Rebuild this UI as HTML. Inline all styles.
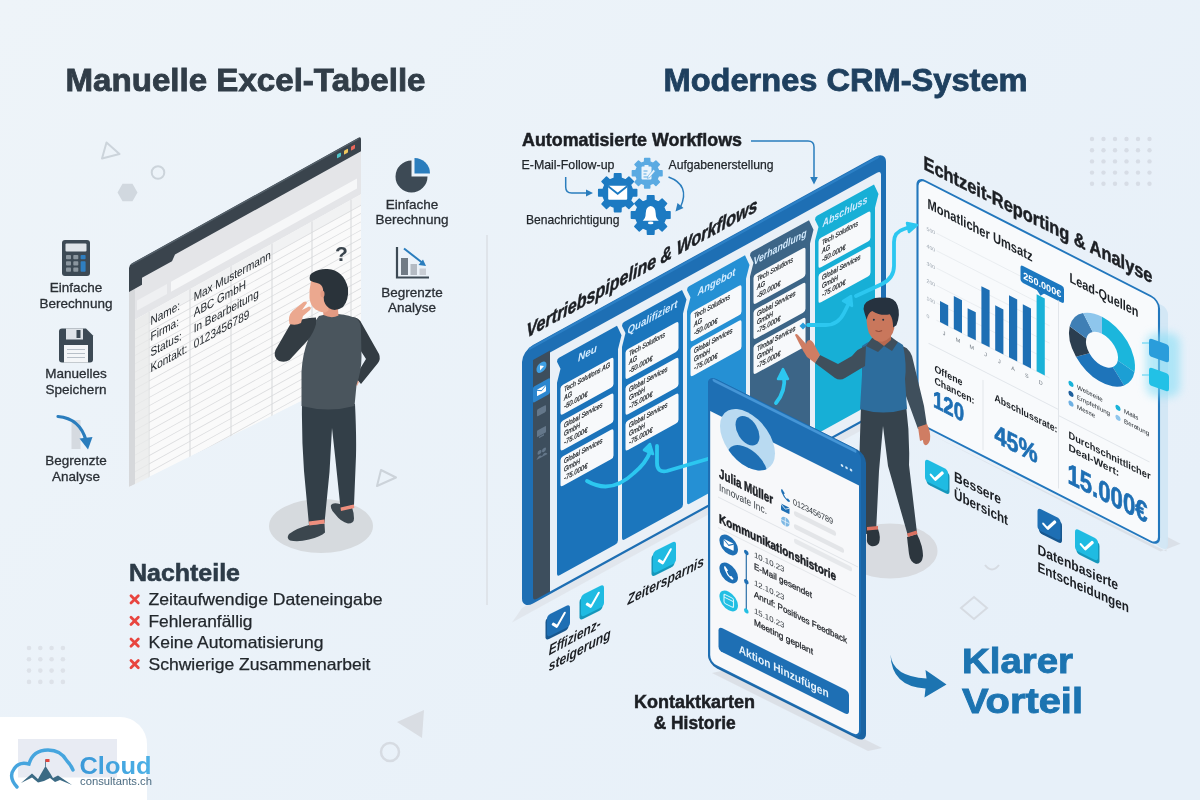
<!DOCTYPE html>
<html lang="de"><head><meta charset="utf-8"><title>Manuelle Excel-Tabelle vs. Modernes CRM-System</title>
<style>
html,body{margin:0;padding:0;background:#ebf2f9;}
body{width:1200px;height:800px;overflow:hidden;font-family:"Liberation Sans",sans-serif;}
svg{display:block;opacity:.999}
text{font-family:"Liberation Sans",sans-serif;}
.b{font-weight:700}
.i{font-style:italic}
.m{text-anchor:middle}
#lefticons text{stroke:#2a2f35;stroke-width:.3px}
.hv{stroke:#1c1f24;stroke-width:.5px}
</style></head><body>
<svg width="1200" height="800" viewBox="0 0 1200 800">
<defs>
<linearGradient id="bg" x1="0" y1="0" x2="1" y2="0.6"><stop offset="0" stop-color="#eef4f9"/><stop offset="1" stop-color="#e7f0f9"/></linearGradient>
<linearGradient id="cl" x1="0" y1="0" x2="1" y2="0"><stop offset="0" stop-color="#3a98d8"/><stop offset="1" stop-color="#4db1e6"/></linearGradient>
<filter id="glow" x="-50%" y="-50%" width="200%" height="200%"><feGaussianBlur stdDeviation="4"/></filter>
<filter id="soft" x="-20%" y="-20%" width="140%" height="140%"><feGaussianBlur stdDeviation="2"/></filter>
</defs>
<rect width="1200" height="800" fill="url(#bg)"/>

<g id="deco">
<circle cx="29.0" cy="648.0" r="2.3" fill="#dde2e9"/><circle cx="29.0" cy="659.3" r="2.3" fill="#dde2e9"/><circle cx="29.0" cy="670.6" r="2.3" fill="#dde2e9"/><circle cx="29.0" cy="681.9" r="2.3" fill="#dde2e9"/><circle cx="40.3" cy="648.0" r="2.3" fill="#dde2e9"/><circle cx="40.3" cy="659.3" r="2.3" fill="#dde2e9"/><circle cx="40.3" cy="670.6" r="2.3" fill="#dde2e9"/><circle cx="40.3" cy="681.9" r="2.3" fill="#dde2e9"/><circle cx="51.6" cy="648.0" r="2.3" fill="#dde2e9"/><circle cx="51.6" cy="659.3" r="2.3" fill="#dde2e9"/><circle cx="51.6" cy="670.6" r="2.3" fill="#dde2e9"/><circle cx="51.6" cy="681.9" r="2.3" fill="#dde2e9"/><circle cx="62.9" cy="648.0" r="2.3" fill="#dde2e9"/><circle cx="62.9" cy="659.3" r="2.3" fill="#dde2e9"/><circle cx="62.9" cy="670.6" r="2.3" fill="#dde2e9"/><circle cx="62.9" cy="681.9" r="2.3" fill="#dde2e9"/>
<circle cx="1092.0" cy="139.0" r="2.2" fill="#d7dde6"/><circle cx="1092.0" cy="150.2" r="2.2" fill="#d7dde6"/><circle cx="1092.0" cy="161.4" r="2.2" fill="#d7dde6"/><circle cx="1092.0" cy="172.6" r="2.2" fill="#d7dde6"/><circle cx="1092.0" cy="183.8" r="2.2" fill="#d7dde6"/><circle cx="1103.5" cy="139.0" r="2.2" fill="#d7dde6"/><circle cx="1103.5" cy="150.2" r="2.2" fill="#d7dde6"/><circle cx="1103.5" cy="161.4" r="2.2" fill="#d7dde6"/><circle cx="1103.5" cy="172.6" r="2.2" fill="#d7dde6"/><circle cx="1103.5" cy="183.8" r="2.2" fill="#d7dde6"/><circle cx="1115.0" cy="139.0" r="2.2" fill="#d7dde6"/><circle cx="1115.0" cy="150.2" r="2.2" fill="#d7dde6"/><circle cx="1115.0" cy="161.4" r="2.2" fill="#d7dde6"/><circle cx="1115.0" cy="172.6" r="2.2" fill="#d7dde6"/><circle cx="1115.0" cy="183.8" r="2.2" fill="#d7dde6"/><circle cx="1126.5" cy="139.0" r="2.2" fill="#d7dde6"/><circle cx="1126.5" cy="150.2" r="2.2" fill="#d7dde6"/><circle cx="1126.5" cy="161.4" r="2.2" fill="#d7dde6"/><circle cx="1126.5" cy="172.6" r="2.2" fill="#d7dde6"/><circle cx="1126.5" cy="183.8" r="2.2" fill="#d7dde6"/><circle cx="1138.0" cy="139.0" r="2.2" fill="#d7dde6"/><circle cx="1138.0" cy="150.2" r="2.2" fill="#d7dde6"/><circle cx="1138.0" cy="161.4" r="2.2" fill="#d7dde6"/><circle cx="1138.0" cy="172.6" r="2.2" fill="#d7dde6"/><circle cx="1138.0" cy="183.8" r="2.2" fill="#d7dde6"/><circle cx="1149.5" cy="139.0" r="2.2" fill="#d7dde6"/><circle cx="1149.5" cy="150.2" r="2.2" fill="#d7dde6"/><circle cx="1149.5" cy="161.4" r="2.2" fill="#d7dde6"/><circle cx="1149.5" cy="172.6" r="2.2" fill="#d7dde6"/><circle cx="1149.5" cy="183.8" r="2.2" fill="#d7dde6"/>
<path d="M106.500,142.500 L119.500,154 L102,158.500 Z" fill="none" stroke="#ccd4db" stroke-width="2" stroke-linejoin="round"/>
<circle cx="158" cy="172.500" r="6.300" fill="none" stroke="#ccd4db" stroke-width="2"/>
<path d="M117.500,192.500 l5,-8.700 h10 l5,8.700 l-5,8.700 h-10 z" fill="#d1d8df"/>
<path d="M381,470 L396,477.500 L377,486 Z" fill="none" stroke="#ccd3da" stroke-width="2" stroke-linejoin="round"/>
<path d="M397,722 L424,710 L422,738 Z" fill="#d9dde3"/>
<circle cx="390" cy="752" r="9" fill="none" stroke="#d6dbe2" stroke-width="2.5"/>
<path d="M974,597 l13,11 l-13,11 l-13,-11 z" fill="none" stroke="#d6dbe2" stroke-width="2"/>
<path d="M985,565 q7,9 14,0" fill="none" stroke="#d6dbe2" stroke-width="2"/>
<rect x="486" y="235" width="2" height="370" fill="#dfe4ea"/>
</g>
<text x="65.500" y="90.700" class="b" font-size="30.500" fill="#313d48" stroke="#313d48" stroke-width="0.800" textLength="360" lengthAdjust="spacingAndGlyphs">Manuelle Excel-Tabelle</text>
<text x="663.500" y="90.700" class="b" font-size="30.500" fill="#1f405f" stroke="#1f405f" stroke-width="0.800" textLength="364" lengthAdjust="spacingAndGlyphs">Modernes CRM-System</text>
<g id="lefticons" fill="#2a2f35" font-size="13.5">
<g><rect x="62" y="240" width="28" height="36" rx="3" fill="#3d4a55"/><rect x="65.5" y="243.5" width="21" height="8" rx="1" fill="#dfe4e9"/>
<rect x="66.0" y="255.0" width="5" height="4.2" rx="0.8" fill="#8b969f"/>
<rect x="73.3" y="255.0" width="5" height="4.2" rx="0.8" fill="#8b969f"/>
<rect x="80.6" y="255.0" width="5" height="4.2" rx="0.8" fill="#2f7fc1"/>
<rect x="66.0" y="261.3" width="5" height="4.2" rx="0.8" fill="#8b969f"/>
<rect x="73.3" y="261.3" width="5" height="4.2" rx="0.8" fill="#8b969f"/>
<rect x="66.0" y="267.6" width="5" height="4.2" rx="0.8" fill="#8b969f"/>
<rect x="73.3" y="267.6" width="5" height="4.2" rx="0.8" fill="#8b969f"/>
<rect x="80.6" y="261.3" width="5" height="10.5" rx="0.8" fill="#2f7fc1"/></g>
<text x="76" y="307.5" class="m"><tspan x="76" y="292">Einfache</tspan><tspan x="76" y="307.5">Berechnung</tspan></text>
<g><path d="M59,331.5 a3,3 0 0 1 3,-3 h24 l7,7 v24 a3,3 0 0 1 -3,3 h-28 a3,3 0 0 1 -3,-3 z" fill="#3d4a55"/><rect x="66" y="328.5" width="17" height="11" fill="#dfe4e9"/><rect x="76.5" y="330" width="4" height="8" fill="#3d4a55"/><rect x="64" y="345" width="24" height="17.5" fill="#f4f6f8"/><path d="M67,349.5h18M67,353.5h18M67,357.5h18" stroke="#b8c0c8" stroke-width="1.2"/></g>
<text class="m"><tspan x="76" y="378">Manuelles</tspan><tspan x="76" y="394">Speichern</tspan></text>
<g><rect x="71.5" y="420" width="9" height="29" fill="#d5dae0"/><path d="M58,416.5 q22,2 28,24" fill="none" stroke="#2a7dbd" stroke-width="3.2" stroke-linecap="round"/><path d="M79.5,438.5 l13,-1.5 l-4.5,12.5 z" fill="#2a7dbd"/></g>
<text class="m"><tspan x="76" y="465">Begrenzte</tspan><tspan x="76" y="481">Analyse</tspan></text>
<g><path d="M411.5,176.5 v-16 a16,16 0 1 0 16,16 z" fill="#3d4a55"/><path d="M414.5,173.5 v-15.5 a15.5,15.5 0 0 1 15.5,15.5 z" fill="#2a7dbd"/></g>
<text class="m"><tspan x="412" y="208.5">Einfache</tspan><tspan x="412" y="224">Berechnung</tspan></text>
<g><path d="M397,247 v30.5 h32" fill="none" stroke="#3d4a55" stroke-width="2.2"/><rect x="401" y="258" width="7" height="17" fill="#707b85"/><rect x="410.5" y="264" width="6.5" height="11" fill="#b4bbc3"/><rect x="419.5" y="268.5" width="6.5" height="6.5" fill="#c9ced5"/><path d="M404,248.5 L422,262.5" stroke="#2a7dbd" stroke-width="2"/><path d="M426,266 l-7.5,-1 l4.5,-5.5 z" fill="#2a7dbd"/></g>
<text class="m"><tspan x="412" y="296.5">Begrenzte</tspan><tspan x="412" y="311.5">Analyse</tspan></text>
</g>
<g id="sheet" transform="matrix(1,-0.555,0,1,129,267)"><clipPath id="shc"><path d="M0,-3 H232 V233 L0,220 Z"/></clipPath><g clip-path="url(#shc)">
<path d="M0,14 L232,14 L232,233 L0,220 Z" fill="#fafafa"/>
<path d="M0,12 H232 V56 H0 Z" fill="#e4e5e8"/>
<rect x="42" y="38" width="186" height="10" fill="#f6f7f8"/><rect x="8" y="38" width="30" height="10" fill="#eff0f2"/>
<rect x="6" y="56" width="226" height="11" fill="#f1f2f3"/>
<path d="M6,67.0H232M6,75.3H232M6,83.6H232M6,91.9H232M6,100.2H232M6,108.5H232M6,116.8H232M6,125.1H232M6,133.4H232M6,141.7H232M6,150.0H232M6,158.3H232M6,166.6H232M6,174.9H232M6,183.2H232M6,191.5H232M6,199.8H232M6,208.1H232M6,216.4H232M6,224.7H232" stroke="#dcdddf" stroke-width="0.9" fill="none"/>
<path d="M20,56V232M61,56V232M102,56V232M143,56V232M183,56V232M222,56V232" stroke="#d6d8da" stroke-width="1" fill="none"/>
<path d="M6,56 H20 V232 H6 Z" fill="#e8e9ea" opacity="0.75"/><path d="M0,12 H6 L6,221 L0,220 Z" fill="#d6d8db"/>
</g>
<path d="M0,1 a3,3 0 0 1 3,-3 H229 a3,3 0 0 1 3,3 V13 H46 l-3,5 H13 V25 H0 Z" fill="#3a444d"/><path d="M3,-1 H229" stroke="#56626c" stroke-width="1.500" stroke-linecap="round"/>
<rect x="208" y="3" width="4" height="4" rx="0.8" fill="#4fc3c7"/><rect x="215" y="3" width="4" height="4" rx="0.8" fill="#f0c75e"/><rect x="222" y="3" width="4" height="4" rx="0.8" fill="#e8685c"/>
<g font-size="12.5" fill="#24292e" transform="scale(0.8,1)">
<text x="27.0" y="70.5">Name:</text><text x="80.9" y="70.5">Max Mustermann</text>
<text x="27.0" y="86.2">Firma:</text><text x="80.9" y="86.2">ABC GmbH</text>
<text x="27.0" y="101.9">Status:</text><text x="80.9" y="101.9">In Bearbeitung</text>
<text x="27.0" y="117.6">Kontakt:</text><text x="80.9" y="117.6">0123456789</text>
</g>
</g>
<text x="335" y="261" class="b" font-size="21" fill="#3a444d">?</text>
<g id="man1">
<ellipse cx="321" cy="526" rx="52" ry="27" fill="#d6dade"/>
<path d="M309,525 q-12,3 -20,9 q-3,4 1,6.500 q8,2 19,-1 q12,-3 16,-7 l-0.500,-9 z" fill="#3b464e"/>
<path d="M340,504 q-7,-2 -9,1 q-1,4 4,9 q6,8 13,9.500 q6,0 6,-5 q0,-6 -2,-11 z" fill="#3b464e"/>
<path d="M302,404 H355 q1.500,30 1,52 l-2,49 l-13.500,3 l-5,-48 l-3.500,-32 l-2.500,44 l-5,51 l-15.500,2 l-5,-54 q-2.500,-34 -2,-67 Z" fill="#333f48"/>
<path d="M308.800,521.500 l15.600,-2 l0.300,4 l-15.400,2 z M340.500,507.500 l13.300,-3 l0.500,3.600 l-13.300,3 z" fill="#ef8f7e"/>
<path d="M352,317 q7,0 10,7 l17,30 q2,5 -1,9 l-17,21 l-6,-7 l11,-18 l-9,-14 z" fill="#333c43"/>
<path d="M355,377 l4,5 l-2,4 l-3,-3 z" fill="#eba88f"/>
<path d="M319,316 q10,-3 19,-2 q12,1 19,5 q4,3 4,12 l0.500,26 q0,14 -5,28 l-2,21 q-26,7 -53,0 l0,-34 q1,-18 6.500,-32 q4,-16 11,-24 z" fill="#4a555d"/>
<path d="M316,317.500 q-14,0 -25.500,6.500 l-15,26 q-3,7 3.500,11 q6,2 10.500,-1 l18.500,-20 q6,-8 8,-16 z" fill="#333c43"/>
<path d="M289.500,324 q-2,-8 3,-13 l11,-9 q3,-1.500 3.500,1 l-5,7 l7,-3.500 q3,0.500 1,3.500 l-7,6 l-2,7 q-5,3 -11.500,1 z" fill="#eba88f"/>
<path d="M322,304 l1.500,11 q8,4 15,0.500 l-1,-12 z" fill="#e39a82"/>
<path d="M311,281 q-2,9 -1.500,17 q1,8 6,11.500 q5,3 10,3 l3,-2 l-1,-24 l-7,-6 z" fill="#eba88f"/>
<path d="M310,280.500 q-1.500,-6 3,-8 q6,-4 14.500,-3.500 q16,1 20.500,19 q1,12 -5,19 q-6,4 -11,2.500 q-6,-2 -8,-8.500 l-1,-12 q-1,-5 -6,-6 q-4,-1 -7,-2.500 z" fill="#2a333a"/>
<ellipse cx="322.500" cy="294" rx="2" ry="3.200" fill="#e39a82"/>
</g>
<text x="129" y="581" class="b" font-size="24.5" fill="#2d3b48" stroke="#2d3b48" stroke-width="0.600" textLength="111" lengthAdjust="spacingAndGlyphs">Nachteile</text>
<path d="M131,595.7 l7.300,7.300 m0,-7.300 l-7.300,7.300" stroke="#e8453f" stroke-width="2.800" stroke-linecap="round"/>
<text x="148.5" y="605.2" font-size="16.5" fill="#22272c" stroke="#22272c" stroke-width="0.250" textLength="234" lengthAdjust="spacingAndGlyphs">Zeitaufwendige Dateneingabe</text>
<path d="M131,617.3 l7.300,7.300 m0,-7.300 l-7.300,7.300" stroke="#e8453f" stroke-width="2.800" stroke-linecap="round"/>
<text x="148.5" y="626.8" font-size="16.5" fill="#22272c" stroke="#22272c" stroke-width="0.250" textLength="104" lengthAdjust="spacingAndGlyphs">Fehleranfällig</text>
<path d="M131,638.9 l7.300,7.300 m0,-7.300 l-7.300,7.300" stroke="#e8453f" stroke-width="2.800" stroke-linecap="round"/>
<text x="148.5" y="648.4" font-size="16.5" fill="#22272c" stroke="#22272c" stroke-width="0.250" textLength="175" lengthAdjust="spacingAndGlyphs">Keine Automatisierung</text>
<path d="M131,660.5 l7.300,7.300 m0,-7.300 l-7.300,7.300" stroke="#e8453f" stroke-width="2.800" stroke-linecap="round"/>
<text x="148.5" y="670.0" font-size="16.5" fill="#22272c" stroke="#22272c" stroke-width="0.250" textLength="222" lengthAdjust="spacingAndGlyphs">Schwierige Zusammenarbeit</text>
<g id="logo">
<path d="M0,717 H120 a27,27 0 0 1 27,27 V800 H0 Z" fill="#ffffff"/>
<rect x="18" y="739" width="99" height="38.5" fill="#e8ebf3"/>
<path d="M17,787 q-9,-10 -3,-18 q5,-8 15,-5 q4,-14 19,-14 q13,0 19,11 q4,4 6,9" fill="none" stroke="#46a5de" stroke-width="3.4" stroke-linecap="round"/>
<path d="M21,783 L32,773.5 L38,779 L45.5,766 L50,773 L53,778 L58,775.5 L72,785 L60,780 L55,782 L50,778 L44,781 L38,782.5 L32,777.5 Z" fill="#3b6a84"/>
<path d="M45.5,766.5 v-7" stroke="#3b6a84" stroke-width="0.8"/><rect x="45.5" y="759" width="4" height="3" fill="#e2453c"/>
<text x="79.5" y="774" class="b" font-size="23.5" fill="url(#cl)" textLength="72" lengthAdjust="spacingAndGlyphs">Cloud</text>
<text x="80" y="784.8" font-size="10.2" fill="#4b6b81" textLength="72" lengthAdjust="spacingAndGlyphs">consultants.ch</text>
</g>
<g id="workflows">
<text x="522" y="146" class="b hv" font-size="17.5" fill="#1c1f24" textLength="220" lengthAdjust="spacingAndGlyphs">Automatisierte Workflows</text>
<g font-size="13.5" fill="#22272c" stroke="#22272c" stroke-width="0.250">
<text x="521.5" y="169" textLength="93" lengthAdjust="spacingAndGlyphs">E-Mail-Follow-up</text>
<text x="668.5" y="169" textLength="105" lengthAdjust="spacingAndGlyphs">Aufgabenerstellung</text>
<text x="526" y="223.5" textLength="93.5" lengthAdjust="spacingAndGlyphs">Benachrichtigung</text>
</g>
<path d="M636.7,189.5L636.7,195.9L632.3,196.1L630.4,200.6L633.4,203.9L628.9,208.4L625.6,205.4L621.1,207.3L620.9,211.7L614.5,211.7L614.3,207.3L609.8,205.4L606.5,208.4L602.0,203.9L605.0,200.6L603.1,196.1L598.7,195.9L598.7,189.5L603.1,189.3L605.0,184.8L602.0,181.5L606.5,177.0L609.8,180.0L614.3,178.1L614.5,173.7L620.9,173.7L621.1,178.1L625.6,180.0L628.9,177.0L633.4,181.5L630.4,184.8L632.3,189.3Z" fill="#1c7ac2" stroke="#1c7ac2" stroke-width="1.5" stroke-linejoin="round"/>
<path d="M662.0,170.7L662.0,175.7L658.5,175.8L657.0,179.3L659.4,181.9L655.9,185.4L653.3,183.0L649.8,184.5L649.7,188.0L644.7,188.0L644.6,184.5L641.1,183.0L638.5,185.4L635.0,181.9L637.4,179.3L635.9,175.8L632.4,175.7L632.4,170.7L635.9,170.6L637.4,167.1L635.0,164.5L638.5,161.0L641.1,163.4L644.6,161.9L644.7,158.4L649.7,158.4L649.8,161.9L653.3,163.4L655.9,161.0L659.4,164.5L657.0,167.1L658.5,170.6Z" fill="#5aaae2" stroke="#5aaae2" stroke-width="1.5" stroke-linejoin="round"/>
<path d="M670.0,211.8L670.0,218.2L665.5,218.4L663.6,223.0L666.6,226.4L662.1,230.9L658.7,227.9L654.1,229.8L653.9,234.3L647.5,234.3L647.3,229.8L642.7,227.9L639.3,230.9L634.8,226.4L637.8,223.0L635.9,218.4L631.4,218.2L631.4,211.8L635.9,211.6L637.8,207.0L634.8,203.6L639.3,199.1L642.7,202.1L647.3,200.2L647.5,195.7L653.9,195.7L654.1,200.2L658.7,202.1L662.1,199.1L666.6,203.6L663.6,207.0L665.5,211.6Z" fill="#1c7ac2" stroke="#1c7ac2" stroke-width="1.5" stroke-linejoin="round"/>
<g><rect x="608.2" y="185.800" width="19" height="14" rx="1" fill="#fff"/><path d="M608.2,186.300 l9.500,7.500 l9.500,-7.500" fill="none" stroke="#1c7ac2" stroke-width="1.800"/></g>
<g><rect x="641.5" y="166.5" width="10" height="13" rx="1" fill="#eaf4fc"/><rect x="644.5" y="165" width="4" height="2.6" fill="#eaf4fc"/><path d="M643.5,171h4M643.5,174h3M643.5,177h5" stroke="#5ba9e1" stroke-width="1"/><path d="M648,176 l5.5,-6.5 l1.8,1.6 l-5.5,6.5 l-2.4,0.8 z" fill="#eaf4fc" stroke="#5ba9e1" stroke-width="0.6"/></g>
<g><path d="M642.700,220.800 q3,-2.500 3,-7.500 q0,-6.500 5,-7.300 q5,0.800 5,7.300 q0,5 3,7.500 z" fill="#fff"/><ellipse cx="650.700" cy="222.900" rx="2.800" ry="1.300" fill="#fff"/></g>
<g fill="none" stroke="#2a7dbd" stroke-width="1.5">
<path d="M565.7,177 V187 q0,6 6,6 H588"/><path d="M751,141 H808 q6,0 6,6 V179"/><path d="M668.5,177 q22,8 12,30"/>
</g>
<path d="M593,193 l-7,-3.500 v7 z M814,184.500 l-3.800,-7.500 h7.600 z M675.500,211.500 l2,-8.500 l6,5 z" fill="#2a7dbd"/>
</g>
<g id="report" transform="matrix(1,0.51,0,1,917.5,180.6)">
<path d="M10,247 H243 l20,-18 h-14 V244 Z" fill="#d6dbe1" opacity="0.75"/>
<rect x="236" y="0" width="14.500" height="243" rx="6" fill="#cfe5f5" opacity="0.85"/>
<rect x="0" y="-3.500" width="241.5" height="245.500" rx="8" fill="#f8fafc" stroke="#2277bd" stroke-width="2.100"/>
<text x="10" y="22.5" font-size="14.5" fill="#1d2126" class="b" textLength="105" lengthAdjust="spacingAndGlyphs" style="font-weight:600">Monatlicher Umsatz</text>
<text x="152" y="24" font-size="14" fill="#1d2126" class="b" textLength="69" lengthAdjust="spacingAndGlyphs">Lead-Quellen</text>
<text x="9" y="45.0" font-size="5.200" fill="#9ea7b1">500</text>
<path d="M19,43.0H132" stroke="#e6e9ed" stroke-width="0.7"/>
<text x="9" y="62.4" font-size="5.200" fill="#9ea7b1">400</text>
<path d="M19,60.4H132" stroke="#e6e9ed" stroke-width="0.7"/>
<text x="9" y="79.8" font-size="5.200" fill="#9ea7b1">300</text>
<path d="M19,77.8H132" stroke="#e6e9ed" stroke-width="0.7"/>
<text x="9" y="97.2" font-size="5.200" fill="#9ea7b1">200</text>
<path d="M19,95.2H132" stroke="#e6e9ed" stroke-width="0.7"/>
<text x="9" y="114.6" font-size="5.200" fill="#9ea7b1">100</text>
<path d="M19,112.6H132" stroke="#e6e9ed" stroke-width="0.7"/>
<text x="9" y="132.0" font-size="5.200" fill="#9ea7b1">0</text>
<path d="M19,130.0H132" stroke="#e6e9ed" stroke-width="0.7"/>
<rect x="22.5" y="109" width="8.2" height="21" fill="#1e6fb4"/>
<text x="26.6" y="141" font-size="5.4" fill="#6f7881" class="m">J</text>
<rect x="36.3" y="97" width="8.2" height="33" fill="#1e6fb4"/>
<text x="40.4" y="141" font-size="5.4" fill="#6f7881" class="m">M</text>
<rect x="50.1" y="102" width="8.2" height="28" fill="#1e6fb4"/>
<text x="54.2" y="141" font-size="5.4" fill="#6f7881" class="m">M</text>
<rect x="63.9" y="73" width="8.2" height="57" fill="#1e6fb4"/>
<text x="68.0" y="141" font-size="5.4" fill="#6f7881" class="m">J</text>
<rect x="77.7" y="85" width="8.2" height="45" fill="#1e6fb4"/>
<text x="81.8" y="141" font-size="5.4" fill="#6f7881" class="m">J</text>
<rect x="91.5" y="68" width="8.2" height="62" fill="#1e6fb4"/>
<text x="95.6" y="141" font-size="5.4" fill="#6f7881" class="m">A</text>
<rect x="105.3" y="70" width="8.2" height="60" fill="#1e6fb4"/>
<text x="109.4" y="141" font-size="5.4" fill="#6f7881" class="m">S</text>
<rect x="119.1" y="53" width="8.2" height="77" fill="#1ab2d8"/>
<text x="123.2" y="141" font-size="5.4" fill="#6f7881" class="m">D</text>
<g><rect x="103" y="31.500" width="43.5" height="17" rx="2.5" fill="#1c78c0"/><path d="M119,48 h8 l-4,4.500 z" fill="#1c78c0"/><text x="124.8" y="44" font-size="9.6" class="b m" fill="#fff" textLength="38" lengthAdjust="spacingAndGlyphs">250.000€</text></g>
<path d="M141,48V236 M11,157H141 M65.500,166V236 M141,163 H232" stroke="#e1e5ea" stroke-width="1" fill="none"/>
<path d="M184.5,42.0A33,33 0 0 1 217.0,80.7L200.3,77.8A16,16 0 0 0 184.5,59.0Z" fill="#1bb6dc"/>
<path d="M217.0,80.7A33,33 0 0 1 206.6,99.5L195.2,86.9A16,16 0 0 0 200.3,77.8Z" fill="#1c9fd4"/>
<path d="M206.6,99.5A33,33 0 0 1 158.5,95.3L171.9,84.9A16,16 0 0 0 195.2,86.9Z" fill="#1e74ba"/>
<path d="M158.5,95.3A33,33 0 0 1 152.2,68.1L168.8,71.7A16,16 0 0 0 171.9,84.9Z" fill="#2b3e50"/>
<path d="M152.2,68.1A33,33 0 0 1 165.6,48.0L175.3,61.9A16,16 0 0 0 168.8,71.7Z" fill="#3f7fb5"/>
<path d="M165.6,48.0A33,33 0 0 1 184.5,42.0L184.5,59.0A16,16 0 0 0 175.3,61.9Z" fill="#8ec6ec"/>
<circle cx="153.5" cy="125" r="2.6" fill="#19b3d9"/><text x="159.5" y="127" font-size="6.200" fill="#20262c">Webseite</text>
<circle cx="153.5" cy="135" r="2.6" fill="#1e5f9c"/><text x="159.5" y="137" font-size="6.200" fill="#20262c">Empfehlung</text>
<circle cx="153.5" cy="144.7" r="2.6" fill="#6fb1e3"/><text x="159.5" y="146.7" font-size="6.200" fill="#20262c">Messe</text>
<circle cx="200.5" cy="125" r="2.6" fill="#19b3d9"/><text x="206.5" y="127" font-size="6.200" fill="#20262c">Mails</text>
<circle cx="200.5" cy="135" r="2.6" fill="#8ec6ec"/><text x="206.5" y="137" font-size="6.200" fill="#20262c">Beratung</text>
<g fill="#1d2126" class="b" font-size="10.2"><text x="17" y="182.5" textLength="28" lengthAdjust="spacingAndGlyphs">Offene</text><text x="17" y="194.5" textLength="40" lengthAdjust="spacingAndGlyphs">Chancen:</text><text x="77" y="181" textLength="63" lengthAdjust="spacingAndGlyphs">Abschlussrate:</text><text x="151" y="180.5" textLength="82" lengthAdjust="spacingAndGlyphs">Durchschnittlicher</text><text x="151" y="193">Deal-Wert:</text></g>
<g fill="#1e6fb4" stroke="#1e6fb4" stroke-width="0.700" class="b"><text x="15.5" y="218" font-size="24" textLength="31" lengthAdjust="spacingAndGlyphs">120</text><text x="77" y="222" font-size="26" textLength="43" lengthAdjust="spacingAndGlyphs">45%</text><text x="150" y="225.5" font-size="28.5" textLength="80" lengthAdjust="spacingAndGlyphs">15.000€</text></g>
</g>
<text transform="matrix(1,0.5,0,1,923.500,169)" x="0" y="0" class="b hv" font-size="19.500" fill="#1c1f24" textLength="229" lengthAdjust="spacingAndGlyphs">Echtzeit-Reporting &amp; Analyse</text>
<g><rect x="1146" y="333" width="34" height="64" rx="10" fill="#7fdcf5" opacity="0.55" filter="url(#glow)"/>
<path d="M1142,343 h10 M1142,375 h10" stroke="#7fdcf5" stroke-width="1.5"/>
<path d="M1152,339 l14,5 q3,1 3,4 v12 q0,3 -3,2 l-14,-5 q-3,-1 -3,-4 v-12 q0,-3 3,-2 z" fill="#2a9ddb"/>
<path d="M1152,368 l14,5 q3,1 3,4 v12 q0,3 -3,2 l-14,-5 q-3,-1 -3,-4 v-12 q0,-3 3,-2 z" fill="#22c1e6"/></g>
<g id="board" transform="matrix(1,-0.55,0,1,522,358)">
<path d="M-10,259 L370,259 L388,250 L0,250 Z" fill="#dfe4ea" opacity="0.8"/>
<rect x="0" y="-7" width="364" height="258.5" rx="11" fill="#1e6fb4"/><path d="M8,-5 H356" stroke="#2c80c6" stroke-width="2.500" stroke-linecap="round"/>
<path d="M11,8 H28 V249 H15 q-4,0 -4,-4 Z" fill="#3d4e5d"/>
<path d="M28,10 H355 q4,0 4,4 V249 H28 Z" fill="#e9f0f7"/>
<path d="M37,20 H95 L99.5,32 L96,44 V235 q0,3 -3,3 H38 q-3,0 -3,-3 V44 L38.5,32 L35,23 q0,-3 2,-3 Z" fill="#1b73ba"/>
<text x="65.5" y="34.500" font-size="10.8" class="b i m" fill="#d4ecff" textLength="19" lengthAdjust="spacingAndGlyphs">Neu</text>
<rect x="38.5" y="49.2" width="53" height="29.500" rx="2.5" fill="#f7f9fb"/>
<text font-size="7.200" fill="#14181c" stroke="#14181c" stroke-width="0.200" class="i"><tspan x="42" y="57.2" textLength="46" lengthAdjust="spacingAndGlyphs">Tech Solutions AG</tspan><tspan x="42" y="65.5" textLength="8" lengthAdjust="spacingAndGlyphs">AG</tspan><tspan x="42" y="74.2" textLength="23.500" lengthAdjust="spacingAndGlyphs">-50.000€</tspan></text>
<rect x="38.5" y="85.0" width="53" height="29.500" rx="2.5" fill="#f7f9fb"/>
<text font-size="7.200" fill="#14181c" stroke="#14181c" stroke-width="0.200" class="i"><tspan x="42" y="93.0" textLength="38.5" lengthAdjust="spacingAndGlyphs">Global Services</tspan><tspan x="42" y="101.3" textLength="16" lengthAdjust="spacingAndGlyphs">GmbH</tspan><tspan x="42" y="110.0" textLength="23.500" lengthAdjust="spacingAndGlyphs">-75.000€</tspan></text>
<rect x="38.5" y="120.8" width="53" height="29.500" rx="2.5" fill="#f7f9fb"/>
<text font-size="7.200" fill="#14181c" stroke="#14181c" stroke-width="0.200" class="i"><tspan x="42" y="128.8" textLength="38.5" lengthAdjust="spacingAndGlyphs">Global Services</tspan><tspan x="42" y="137.1" textLength="16" lengthAdjust="spacingAndGlyphs">GmbH</tspan><tspan x="42" y="145.8" textLength="23.500" lengthAdjust="spacingAndGlyphs">-75.000€</tspan></text>
<path d="M102,20 H160 L164.5,32 L161,44 V235 q0,3 -3,3 H103 q-3,0 -3,-3 V44 L103.5,32 L100,23 q0,-3 2,-3 Z" fill="#1b76bd"/>
<text x="130.5" y="34.500" font-size="10.8" class="b i m" fill="#d4ecff" textLength="50" lengthAdjust="spacingAndGlyphs">Qualifiziert</text>
<rect x="103.5" y="49.2" width="53" height="29.500" rx="2.5" fill="#f7f9fb"/>
<text font-size="7.200" fill="#14181c" stroke="#14181c" stroke-width="0.200" class="i"><tspan x="107" y="57.2" textLength="36" lengthAdjust="spacingAndGlyphs">Tech Solutions</tspan><tspan x="107" y="65.5" textLength="8" lengthAdjust="spacingAndGlyphs">AG</tspan><tspan x="107" y="74.2" textLength="23.500" lengthAdjust="spacingAndGlyphs">-50.000€</tspan></text>
<rect x="103.5" y="85.0" width="53" height="29.500" rx="2.5" fill="#f7f9fb"/>
<text font-size="7.200" fill="#14181c" stroke="#14181c" stroke-width="0.200" class="i"><tspan x="107" y="93.0" textLength="38.5" lengthAdjust="spacingAndGlyphs">Global Services</tspan><tspan x="107" y="101.3" textLength="16" lengthAdjust="spacingAndGlyphs">GmbH</tspan><tspan x="107" y="110.0" textLength="23.500" lengthAdjust="spacingAndGlyphs">-75.000€</tspan></text>
<rect x="103.5" y="120.8" width="53" height="29.500" rx="2.5" fill="#f7f9fb"/>
<text font-size="7.200" fill="#14181c" stroke="#14181c" stroke-width="0.200" class="i"><tspan x="107" y="128.8" textLength="38.5" lengthAdjust="spacingAndGlyphs">Global Services</tspan><tspan x="107" y="137.1" textLength="16" lengthAdjust="spacingAndGlyphs">GmbH</tspan><tspan x="107" y="145.8" textLength="23.500" lengthAdjust="spacingAndGlyphs">-75.000€</tspan></text>
<path d="M167,20 H223 L227.5,32 L224,44 V235 q0,3 -3,3 H168 q-3,0 -3,-3 V44 L168.5,32 L165,23 q0,-3 2,-3 Z" fill="#2590d4"/>
<text x="194.5" y="34.500" font-size="10.8" class="b i m" fill="#d4ecff" textLength="38" lengthAdjust="spacingAndGlyphs">Angebot</text>
<rect x="168.5" y="47.2" width="51" height="29.500" rx="2.5" fill="#f7f9fb"/>
<text font-size="7.200" fill="#14181c" stroke="#14181c" stroke-width="0.200" class="i"><tspan x="172" y="55.2" textLength="36" lengthAdjust="spacingAndGlyphs">Tech Solutions</tspan><tspan x="172" y="63.5" textLength="8" lengthAdjust="spacingAndGlyphs">AG</tspan><tspan x="172" y="72.2" textLength="23.500" lengthAdjust="spacingAndGlyphs">-50.000€</tspan></text>
<rect x="168.5" y="82.2" width="51" height="29.500" rx="2.5" fill="#f7f9fb"/>
<text font-size="7.200" fill="#14181c" stroke="#14181c" stroke-width="0.200" class="i"><tspan x="172" y="90.2" textLength="38.5" lengthAdjust="spacingAndGlyphs">Global Services</tspan><tspan x="172" y="98.5" textLength="16" lengthAdjust="spacingAndGlyphs">GmbH</tspan><tspan x="172" y="107.2" textLength="23.500" lengthAdjust="spacingAndGlyphs">-75.000€</tspan></text>
<path d="M230,20 H287 L291.5,32 L288,44 V235 q0,3 -3,3 H231 q-3,0 -3,-3 V44 L231.5,32 L228,23 q0,-3 2,-3 Z" fill="#3c6587"/>
<text x="258.0" y="34.500" font-size="10.8" class="b i m" fill="#d4ecff" textLength="53" lengthAdjust="spacingAndGlyphs">Verhandlung</text>
<rect x="231.5" y="44.7" width="52" height="29.500" rx="2.5" fill="#f7f9fb"/>
<text font-size="7.200" fill="#14181c" stroke="#14181c" stroke-width="0.200" class="i"><tspan x="235" y="52.7" textLength="36" lengthAdjust="spacingAndGlyphs">Tech Solutions</tspan><tspan x="235" y="61.0" textLength="8" lengthAdjust="spacingAndGlyphs">AG</tspan><tspan x="235" y="69.7" textLength="23.500" lengthAdjust="spacingAndGlyphs">-50.000€</tspan></text>
<rect x="231.5" y="79.7" width="52" height="29.500" rx="2.5" fill="#f7f9fb"/>
<text font-size="7.200" fill="#14181c" stroke="#14181c" stroke-width="0.200" class="i"><tspan x="235" y="87.7" textLength="38.5" lengthAdjust="spacingAndGlyphs">Global Services</tspan><tspan x="235" y="96.0" textLength="16" lengthAdjust="spacingAndGlyphs">GmbH</tspan><tspan x="235" y="104.7" textLength="23.500" lengthAdjust="spacingAndGlyphs">-75.000€</tspan></text>
<rect x="231.5" y="114.7" width="52" height="29.500" rx="2.5" fill="#f7f9fb"/>
<text font-size="7.200" fill="#14181c" stroke="#14181c" stroke-width="0.200" class="i"><tspan x="235" y="122.7" textLength="38.5" lengthAdjust="spacingAndGlyphs">Tirobal Services</tspan><tspan x="235" y="131.0" textLength="16" lengthAdjust="spacingAndGlyphs">GmbH</tspan><tspan x="235" y="139.7" textLength="23.500" lengthAdjust="spacingAndGlyphs">-75.000€</tspan></text>
<path d="M295,20 H352 L356.5,32 L353,44 V235 q0,3 -3,3 H296 q-3,0 -3,-3 V44 L296.5,32 L293,23 q0,-3 2,-3 Z" fill="#17afd6"/>
<text x="323.0" y="34.500" font-size="10.8" class="b i m" fill="#d4ecff" textLength="45" lengthAdjust="spacingAndGlyphs">Abschluss</text>
<rect x="296.5" y="44.2" width="52" height="29.500" rx="2.5" fill="#f7f9fb"/>
<text font-size="7.200" fill="#14181c" stroke="#14181c" stroke-width="0.200" class="i"><tspan x="300" y="52.2" textLength="36" lengthAdjust="spacingAndGlyphs">Tech Solutions</tspan><tspan x="300" y="60.5" textLength="8" lengthAdjust="spacingAndGlyphs">AG</tspan><tspan x="300" y="69.2" textLength="23.500" lengthAdjust="spacingAndGlyphs">-50.000€</tspan></text>
<rect x="296.5" y="79.2" width="52" height="29.500" rx="2.5" fill="#f7f9fb"/>
<text font-size="7.200" fill="#14181c" stroke="#14181c" stroke-width="0.200" class="i"><tspan x="300" y="87.2" textLength="38.5" lengthAdjust="spacingAndGlyphs">Global Services</tspan><tspan x="300" y="95.5" textLength="16" lengthAdjust="spacingAndGlyphs">GmbH</tspan><tspan x="300" y="104.2" textLength="23.500" lengthAdjust="spacingAndGlyphs">-75.000€</tspan></text>
<circle cx="19.500" cy="20" r="5" fill="#3f9fe3"/><path d="M18,17.500 v5 l4,-2.500 z" fill="#fff"/>
<rect x="11" y="35" width="17" height="16" rx="1.500" fill="#2b86cf"/><rect x="15" y="40" width="9" height="6.500" rx="0.8" fill="#fff"/><path d="M15,40.500 l4.500,3 l4.500,-3" stroke="#2b86cf" stroke-width="0.9" fill="none"/>
<g fill="#64778a" transform="translate(1.500,0)"><rect x="13.500" y="60" width="9" height="7" rx="1.2"/><rect x="13.500" y="81" width="9" height="6.500" rx="0.8"/><rect x="15.500" y="88" width="5" height="1.500"/><circle cx="16" cy="104" r="2"/><circle cx="20.500" cy="104" r="2"/><path d="M13,110 q3,-5 6,0 z M18,110 q3,-5 6,0 z"/></g>
</g>
<text transform="matrix(1,-0.55,0,1,526.500,338)" class="b i hv" font-size="19.500" fill="#1c1f24" textLength="231" lengthAdjust="spacingAndGlyphs">Vertriebspipeline &amp; Workflows</text>
<g fill="none" stroke="#2cc7f0" stroke-width="3.800" stroke-linecap="round">
<path d="M587,481 q24,14 47,-8 q12,-10 16,-21"/>
<path d="M657,446 v17 q0,10 10,8 l44,-13"/>
<path d="M776,403 q10,-12 8,-28"/>
<path d="M808,325 h18 q12,0 18,-12 l5,-10"/>
<path d="M856,296 l26,-12 q12,-6 12,-18 v-24 q0,-10 10,-13 l6,-2"/>
</g>
<path d="M650,444 l3,10 l-9,-4 z M783,369 l5,10 h-10 z M851,296 l1,10 l-9,-5 z M917,225 l-10,-2 l2,9 z" fill="#2cc7f0" stroke="#2cc7f0" stroke-width="2.500" stroke-linejoin="round"/>
<path d="M799.500,326 l3.500,-3.500 l3.500,3.500 l-3.500,3.500 z" fill="#2a9ddb"/>
<g id="man2">
<ellipse cx="890" cy="551" rx="47.500" ry="27.500" fill="#d8dbe0"/>
<path d="M861,405 L906,405 q4,30 3,60 l8,68 l-9,3 l-20,-70 l-5,-40 l-4,45 l-3,62 l-10,1 l-7,-66 Z" fill="#36434d"/>
<path d="M867,530 l11,-1 q3,8 1,14 q-3,4 -8,3 q-5,-2 -4,-8 z" fill="#2c363e"/>
<path d="M907,537 l10,-3 q6,12 6,22 q-1,8 -7,8 q-6,-2 -7,-10 z" fill="#2c363e"/>
<path d="M867,527 l11,-1 v3.500 l-11,1 z M907,533.500 l9.500,-3 l1,3.500 l-9.500,3 z" fill="#d97060"/>
<path d="M897,346 q10,-2 15,10 l12,50 l3,20 l-9,3 l-8,-22 l-14,-38 z" fill="#3f4f5c"/>
<path d="M918,427 l9,-3 q4,8 3,16 q-2,6 -5,5 q-2,-1 -2,-5 l-3,1 z" fill="#cf7d63"/>
<path d="M862,346 q10,-8 22,-7 q12,0 19,6 q4,20 2,34 l2,30 q-24,7 -47,0 l2,-34 z" fill="#2d6d9d"/>
<path d="M872,338 l-6,8 l12,6 l6,-6 l8,5 l6,-9 l-8,-6 z" fill="#3f4f5c"/>
<path d="M866,346 q-8,2 -14,10 l-14,8 l-18,-9 l-5,8 l20,15 q5,3 10,0 l20,-12 z" fill="#3f4f5c"/>
<path d="M820,355 l-5,8 l-8,-6 q-4,-6 -8,-14 l-4,-8 q1,-2 3,0 l8,9 q1,-4 4,-4 q3,1 5,6 z" fill="#cf7d63"/>
<path d="M876,330 v10 l8,6 l7,-6 v-12 z" fill="#b9694f"/>
<g transform="translate(881,323) scale(1.1) translate(-881,-319)">
<path d="M868,306 q-1,14 2,22 q4,8 12,8 q9,-2 11,-12 l1,-18 z" fill="#c9775c"/>
<path d="M866,310 q-3,-9 5,-12 q6,-3 12,-2 q10,-1 13,7 q3,8 -1,18 l-3,2 q0,-8 -3,-12 q-8,2 -16,-3 q-4,2 -5,8 z" fill="#26323f"/>
<circle cx="874.500" cy="316" r="0.9" fill="#26323f"/><circle cx="883" cy="316" r="0.9" fill="#26323f"/><path d="M876,326 q3,1.500 6,0" stroke="#8a4434" stroke-width="0.9" fill="none"/>
</g></g>
<g id="card" transform="matrix(1,0.5,0,1,708,375)">
<path d="M4,296 H160 l14,-10 H18 Z" fill="#d9dee4" opacity="0.9"/>
<rect x="0" y="0" width="158" height="289" rx="9" fill="#1b64a3"/>
<rect x="0" y="0" width="153" height="287.500" rx="8" fill="#1e6fb4"/>
<path d="M2.200,35 H151 V279 q0,7 -7,7 H9.200 q-7,0 -7,-7 Z" fill="#f7f8fa"/>
<path d="M6,2.500 H147" stroke="#4595d6" stroke-width="3" stroke-linecap="round"/>
<g transform="translate(0,4)">
<circle cx="134" cy="19.500" r="1.300" fill="#cfe6f7"/><circle cx="138.500" cy="19.500" r="1.300" fill="#cfe6f7"/><circle cx="143" cy="19.500" r="1.300" fill="#cfe6f7"/>
<circle cx="39.500" cy="41" r="27.500" fill="#b9daf1"/>
<clipPath id="av"><circle cx="39.500" cy="41" r="27.500"/></clipPath>
<g clip-path="url(#av)"><ellipse cx="39.500" cy="32" rx="12" ry="13.500" fill="#1e6fb4"/><ellipse cx="39.500" cy="66" rx="20" ry="17" fill="#1e6fb4"/></g>
<text x="11" y="93" font-size="13.5" class="b hv" fill="#1c1f24" textLength="54" lengthAdjust="spacingAndGlyphs">Julia Müller</text>
<text x="11" y="106" font-size="10.5" fill="#3a4046" textLength="48" lengthAdjust="spacingAndGlyphs">Innovate Inc.</text>
<path d="M10,113 H150" stroke="#e1e4e8" stroke-width="1"/>
<path d="M74,73 q-1.500,1 -0.500,3.500 q2,4.500 6,6 q2,0.500 2.500,-1.500 l-2,-1.500 l-1.300,1 q-2,-1 -3,-3.300 l1.200,-1.200 z" fill="#1e6fb4"/>
<text x="85" y="83" font-size="8.600" fill="#2a3036" textLength="40" lengthAdjust="spacingAndGlyphs">0123456789</text>
<rect x="73" y="88" width="8.500" height="6.500" rx="1" fill="#1e6fb4"/><path d="M73,88.500 l4.300,3 l4.300,-3" stroke="#fff" stroke-width="0.700" fill="none"/>
<rect x="86" y="88.500" width="42" height="5" rx="2" fill="#e3e5e8"/>
<circle cx="77.300" cy="104" r="4.300" fill="#7db8e4"/><path d="M73,104h8.600M77.300,99.700v8.600" stroke="#fff" stroke-width="0.600"/>
<rect x="86" y="101.500" width="50" height="5" rx="2" fill="#e3e5e8"/>
<rect x="86" y="116" width="58" height="5" rx="2" fill="#e6e8eb"/>
<text x="11" y="138" font-size="12.600" class="b hv" fill="#1c1f24" textLength="117" lengthAdjust="spacingAndGlyphs">Kommunikationshistorie</text>
<path d="M10,143.500 H148" stroke="#e1e4e8" stroke-width="0.800"/>
<path d="M38.300,154 V213" stroke="#2a6fa8" stroke-width="1.200"/>
<circle cx="20.700" cy="155.6" r="9.300" fill="#1e6fb4"/>
<circle cx="38.300" cy="154.3" r="2.300" fill="#1e6fb4"/>
<text x="46" y="155.1" font-size="7.800" fill="#2a3036">10.10.23</text>
<text x="46" y="167.1" font-size="8.800" fill="#1c1f24" stroke="#1c1f24" stroke-width="0.250" textLength="58" lengthAdjust="spacingAndGlyphs">E-Mail gesendet</text>
<circle cx="20.700" cy="183.6" r="9.300" fill="#1e6fb4"/>
<circle cx="38.300" cy="183.5" r="2.300" fill="#1e6fb4"/>
<text x="46" y="183.1" font-size="7.800" fill="#2a3036">12.10.23</text>
<text x="46" y="195.1" font-size="8.800" fill="#1c1f24" stroke="#1c1f24" stroke-width="0.250" textLength="93" lengthAdjust="spacingAndGlyphs">Anruf: Positives Feedback</text>
<circle cx="20.700" cy="211.6" r="9.300" fill="#22bfe3"/>
<circle cx="38.300" cy="212.7" r="2.300" fill="#22bfe3"/>
<text x="46" y="211.1" font-size="7.800" fill="#2a3036">15.10.23</text>
<text x="46" y="223.1" font-size="8.800" fill="#1c1f24" stroke="#1c1f24" stroke-width="0.250" textLength="59" lengthAdjust="spacingAndGlyphs">Meeting geplant</text>
<rect x="15.700" y="152" width="10" height="7.200" rx="1" fill="#fff"/><path d="M15.700,152.500 l5,3.500 l5,-3.500" stroke="#1e6fb4" stroke-width="0.900" fill="none"/>
<path d="M17,178.500 q-1.500,1 -0.500,3.500 q2,5 6.500,6.500 q2,0.500 2.500,-1.500 l-2.200,-1.700 l-1.400,1 q-2,-1 -3,-3.500 l1.200,-1.300 z" fill="#fff"/>
<rect x="16" y="207" width="9.500" height="9" rx="1.500" fill="none" stroke="#d9f5fc" stroke-width="1.100"/><path d="M16,210 h9.500" stroke="#d9f5fc" stroke-width="0.900"/>
<rect x="10.500" y="242" width="130.500" height="24" rx="4" fill="#1e6fb4"/>
<text x="75.700" y="258.500" font-size="11.800" class="b m" fill="#e6f2fb" textLength="90" lengthAdjust="spacingAndGlyphs" style="font-weight:600">Aktion Hinzufügen</text>
</g></g>
<g transform="matrix(1,-0.5,0,1,547,615.5)"><rect x="-1.500" y="2.500" width="23" height="22" rx="3.500" fill="#17578f"/><rect x="0" y="0" width="23" height="22" rx="3.500" fill="#1e6fb4"/><path d="M6,11.500 l4,4.500 l7.500,-9.500" fill="none" stroke="#fff" stroke-width="2.600" stroke-linecap="round" stroke-linejoin="round"/></g>
<g transform="matrix(1,-0.5,0,1,581,595.5)"><rect x="-1.500" y="2.500" width="23" height="22" rx="3.500" fill="#1597bb"/><rect x="0" y="0" width="23" height="22" rx="3.500" fill="#1fbbe2"/><path d="M6,11.500 l4,4.500 l7.500,-9.500" fill="none" stroke="#fff" stroke-width="2.600" stroke-linecap="round" stroke-linejoin="round"/></g>
<g transform="matrix(1,-0.5,0,1,653,552)"><rect x="-1.500" y="2.500" width="23" height="22" rx="3.500" fill="#1597bb"/><rect x="0" y="0" width="23" height="22" rx="3.500" fill="#1fbbe2"/><path d="M6,11.500 l4,4.500 l7.500,-9.500" fill="none" stroke="#fff" stroke-width="2.600" stroke-linecap="round" stroke-linejoin="round"/></g>
<g transform="matrix(1,0.5,0,1,925,458.5)"><rect x="1.500" y="2.500" width="23" height="22" rx="3.500" fill="#1597bb"/><rect x="0" y="0" width="23" height="22" rx="3.500" fill="#1fbbe2"/><path d="M6,13.500 l4,2.500 l7.500,-10.500" fill="none" stroke="#fff" stroke-width="2.600" stroke-linecap="round" stroke-linejoin="round"/></g>
<g transform="matrix(1,0.5,0,1,1037.5,507.5)"><rect x="1.500" y="2.500" width="23" height="22" rx="3.500" fill="#17578f"/><rect x="0" y="0" width="23" height="22" rx="3.500" fill="#1e6fb4"/><path d="M6,13.500 l4,2.500 l7.500,-10.500" fill="none" stroke="#fff" stroke-width="2.600" stroke-linecap="round" stroke-linejoin="round"/></g>
<g transform="matrix(1,0.5,0,1,1075,528)"><rect x="1.500" y="2.500" width="23" height="22" rx="3.500" fill="#1597bb"/><rect x="0" y="0" width="23" height="22" rx="3.500" fill="#1fbbe2"/><path d="M6,13.500 l4,2.500 l7.500,-10.500" fill="none" stroke="#fff" stroke-width="2.600" stroke-linecap="round" stroke-linejoin="round"/></g>
<g class="b" fill="#1c1f24" font-size="14.500">
<text transform="matrix(1,-0.54,0,1,548.700,655.600)" class="b i" textLength="52" lengthAdjust="spacingAndGlyphs">Effizienz-</text>
<text transform="matrix(1,-0.54,0,1,548.700,671.500)" class="b i" textLength="62" lengthAdjust="spacingAndGlyphs">steigerung</text>
<text transform="matrix(1,-0.515,0,1,627.500,605)" class="b i" textLength="76.500" lengthAdjust="spacingAndGlyphs">Zeitersparnis</text>
<text transform="matrix(1,0.5,0,1,954,481)" textLength="47" lengthAdjust="spacingAndGlyphs">Bessere</text>
<text transform="matrix(1,0.5,0,1,954,498.500)" textLength="54" lengthAdjust="spacingAndGlyphs">Übersicht</text>
<text transform="matrix(1,0.45,0,1,1037.500,554)" textLength="80.500" lengthAdjust="spacingAndGlyphs">Datenbasierte</text>
<text transform="matrix(1,0.45,0,1,1037.500,571.500)" textLength="91.500" lengthAdjust="spacingAndGlyphs">Entscheidungen</text>
</g>
<text class="b hv" font-size="17.500" fill="#1c1f24"><tspan x="634" y="708" textLength="121" lengthAdjust="spacingAndGlyphs">Kontaktkarten</tspan><tspan x="653.700" y="728.700" textLength="82" lengthAdjust="spacingAndGlyphs">&amp; Historie</tspan></text>
<text class="b" font-size="35.500" fill="#1c74b1" stroke="#1c74b1" stroke-width="0.900"><tspan x="962" y="672.500" textLength="111" lengthAdjust="spacingAndGlyphs">Klarer</tspan><tspan x="962" y="712.500" textLength="121" lengthAdjust="spacingAndGlyphs">Vorteil</tspan></text>
<path d="M890.500,654.500 q2,22 36,24 l-1,-8.500 l21,14.500 l-22,13 l1,-9 q-34,-2 -35,-34 z" fill="#1c74b1"/>
</svg></body></html>
